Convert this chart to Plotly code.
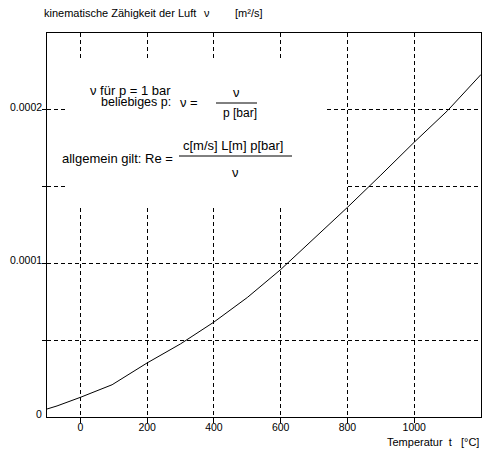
import plotly.graph_objects as go

# kinematic viscosity of air at p = 1 bar
temperatur = [-100, -70, 0, 95, 200, 300, 400, 500, 600, 700, 775, 800, 900, 1000, 1100, 1200]
nu = [5.2e-6, 7.2e-6, 1.28e-5, 2.1e-5, 3.52e-5, 4.76e-5, 6.18e-5, 7.78e-5, 9.6e-5,
      1.16e-4, 1.31e-4, 1.365e-4, 1.575e-4, 1.789e-4, 1.995e-4, 2.23e-4]

x_ticks = [0, 200, 400, 600, 800, 1000]
y_grid = [0.00005, 0.0001, 0.00015, 0.0002]
y_labels = {0: "0", 0.0001: "0.0001", 0.0002: "0.0002"}

FONT = "Liberation Sans, Arial, sans-serif"
NB = "\u00a0"

# plot area in pixels
L, R, T, B = 47, 481, 33, 417


def px(x):
  return (x - L) / (R - L)


def py(y):
  return (B - y) / (B - T)


fig = go.Figure()
fig.add_trace(go.Scatter(x=temperatur, y=nu, mode="lines",
                         line=dict(color="black", width=1), hoverinfo="skip"))

ann = []
# y tick labels sit on top of their grid line
for v, txt in y_labels.items():
  ann.append(dict(x=0, xref="paper", y=v, yref="y", text=txt, showarrow=False,
                  xanchor="right", yanchor="bottom", xshift=-3, yshift=-5,
                  font=dict(size=10.5)))


def text(x, y, s, size=13, anchor="left"):
  ann.append(dict(x=px(x), y=py(y), xref="paper", yref="paper", text=s,
                  showarrow=False, xanchor=anchor, yanchor="middle",
                  font=dict(size=size)))


# headline + axis title
text(42, 13, "kinematische Zähigkeit der Luft", size=11)
text(202, 13, "ν", size=11)
text(233, 13, "[m²/s]", size=11)
text(481, 442, "Temperatur" + NB * 2 + "t" + NB * 3 + "[°C]", size=11, anchor="right")

# formula block
text(88, 90, "ν" + NB + "für p = 1 bar")
text(173, 102, "beliebiges p:", size=12.5, anchor="right")
text(178, 102, "ν" + NB + "=")
text(236, 92, "ν", anchor="center")
text(240, 113, "p [bar]", size=12, anchor="center")
text(175, 158, "allgemein gilt: Re =", anchor="right")
text(233, 145, "c[m/s] L[m] p[bar]", anchor="center")
text(235, 172, "ν", anchor="center")

shapes = [
  # white area behind the text hides the grid (curve stays clear of it)
  dict(type="rect", xref="paper", yref="paper", x0=px(68), x1=px(327), y0=py(208), y1=py(60),
       fillcolor="white", line=dict(width=0), layer="above"),
  dict(type="rect", xref="paper", yref="paper", x0=px(68), x1=px(345), y0=py(205), y1=py(150),
       fillcolor="white", line=dict(width=0), layer="above"),
  # fraction bars
  dict(type="line", xref="paper", yref="paper", x0=px(216), x1=px(257), y0=py(103), y1=py(103),
       line=dict(color="black", width=1)),
  dict(type="line", xref="paper", yref="paper", x0=px(179), x1=px(292), y0=py(156), y1=py(156),
       line=dict(color="black", width=1)),
]

fig.update_layout(
  width=490, height=453, autosize=False,
  margin=dict(l=L, r=490 - R, t=T, b=453 - B),
  paper_bgcolor="white", plot_bgcolor="white",
  font=dict(family=FONT, color="black"),
  showlegend=False,
  annotations=ann, shapes=shapes,
)
fig.update_xaxes(range=[-100, 1200], tickvals=x_ticks, ticks="outside", ticklen=5,
                 tickcolor="black", tickfont=dict(size=10.5), ticklabelstandoff=-5,
                 showgrid=True, gridcolor="black", gridwidth=1, griddash="4px,3px",
                 zeroline=False, showline=True, linecolor="black", linewidth=1, mirror=True)
fig.update_yaxes(range=[0, 0.00025], tickvals=y_grid, ticks="outside", ticklen=4,
                 tickcolor="black", showticklabels=False,
                 showgrid=True, gridcolor="black", gridwidth=1, griddash="4px,3px",
                 zeroline=False, showline=True, linecolor="black", linewidth=1, mirror=True)

fig.write_html("out.html", config={"displayModeBar": False},
               post_script="document.body.style.margin='0';")
